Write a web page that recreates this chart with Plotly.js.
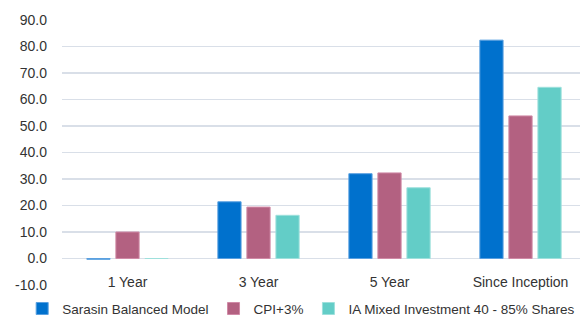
<!DOCTYPE html>
<html><head><meta charset="utf-8">
<script src="https://cdn.plot.ly/plotly-3.0.1.min.js"></script>
<style>html,body{margin:0;padding:0;overflow:hidden;background:#fff;}#chart{width:586px;height:325px;}</style>
</head><body><div id="chart"></div>
<script>
const categories = ["1 Year", "3 Year", "5 Year", "Since Inception"];
const seriesNames = ["Sarasin Balanced Model", "CPI+3%", "IA Mixed Investment 40 - 85% Shares"];
const sarasin = [-0.3, 21.4, 32.0, 82.4];
const cpi = [10.0, 19.4, 32.3, 53.8];
const iaMixed = [0.0, 16.3, 26.7, 64.6];
const yTicks = [-10, 0, 10, 20, 30, 40, 50, 60, 70, 80, 90];
const colors = ["#0071CD", "#B36181", "#63CDC7"];
const lines = ["#5aa0e0", "#d08aa6", "#9ee0dc"];

const values = [sarasin, cpi, iaMixed];
const traces = values.map((v, i) => ({
  type: "bar", x: categories, y: v, name: seriesNames[i],
  marker: {color: colors[i], line: {color: lines[i], width: 1}},
  hoverinfo: "skip"
}));

const layout = {
  width: 586, height: 325,
  margin: {l: 62, r: 0, t: 20, b: 40},
  paper_bgcolor: "#fff", plot_bgcolor: "#fff",
  font: {family: "Liberation Sans, Arial, sans-serif", size: 14, color: "#333"},
  barmode: "group", bargap: 0.335, bargroupgap: 0.2,
  showlegend: true,
  legend: {orientation: "h", x: -0.076, xanchor: "left",
           y: -0.148, yanchor: "bottom", font: {size: 13.5, color: "#333"},
           itemwidth: 30, tracegroupgap: 0, traceorder: "normal", bgcolor: "rgba(0,0,0,0)"},
  xaxis: {type: "category", anchor: "free", position: 0.05, showline: false, ticks: "",
          showgrid: false, zeroline: false, tickfont: {size: 14, color: "#333"}},
  yaxis: {range: [-10, 90], tickvals: yTicks, ticktext: yTicks.map(t => t.toFixed(1)),
          showgrid: true, gridcolor: "#D9DFE8", gridwidth: 1.5, zeroline: true,
          zerolinecolor: "#D9DFE8", zerolinewidth: 1.5, showline: false, ticks: "",
          tickfont: {size: 14, color: "#333"}, ticklabelstandoff: 14}
};
Plotly.newPlot("chart", traces, layout, {displayModeBar: false, staticPlot: true});
</script></body></html>
